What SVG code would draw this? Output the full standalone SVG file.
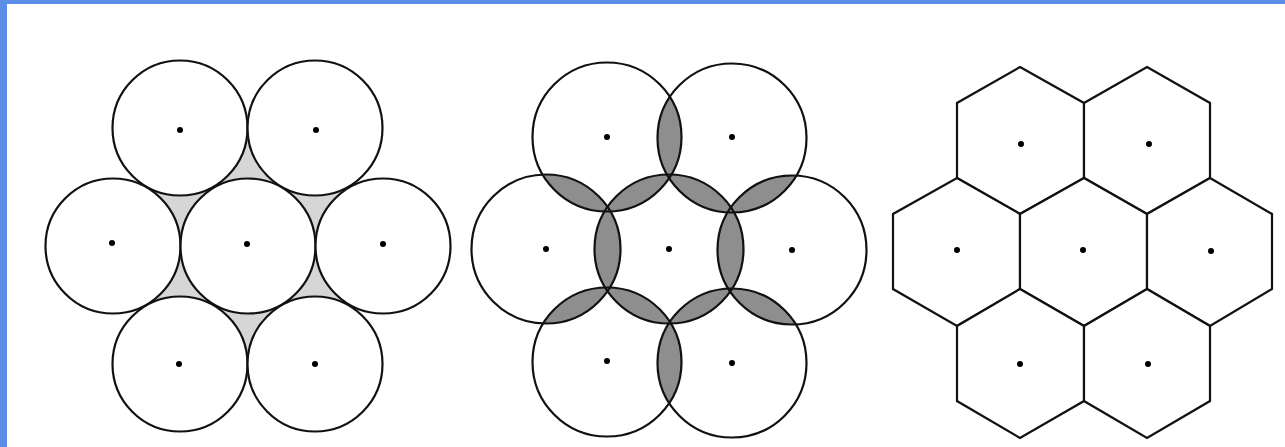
<svg xmlns="http://www.w3.org/2000/svg" xmlns:xlink="http://www.w3.org/1999/xlink" width="1285" height="447" viewBox="0 0 1285 447">
<style>
.c{fill:#fff;stroke:#111;stroke-width:2.2}
.o{fill:none;stroke:#111;stroke-width:2.2}
.h{fill:#fff;stroke:#111;stroke-width:2.2;stroke-linejoin:miter}
.d{fill:#000}
.lens{fill:#8e8e8e}
</style>
<defs>
<circle id="TL" cx="607" cy="137" r="74.5"/>
<circle id="TR" cx="732" cy="138" r="74.5"/>
<circle id="L" cx="546" cy="249" r="74.5"/>
<circle id="C" cx="669" cy="249" r="74.5"/>
<circle id="R" cx="792" cy="250" r="74.5"/>
<circle id="BL" cx="607" cy="362" r="74.5"/>
<circle id="BR" cx="732" cy="363" r="74.5"/>
<clipPath id="kTL"><use xlink:href="#TL"/></clipPath>
<clipPath id="kTR"><use xlink:href="#TR"/></clipPath>
<clipPath id="kL"><use xlink:href="#L"/></clipPath>
<clipPath id="kR"><use xlink:href="#R"/></clipPath>
<clipPath id="kBL"><use xlink:href="#BL"/></clipPath>
<clipPath id="kBR"><use xlink:href="#BR"/></clipPath>
</defs>
<rect x="0" y="0" width="1285" height="447" fill="#fff"/>
<rect x="0" y="0" width="1285" height="4" fill="#5b8ce6"/>
<rect x="0" y="0" width="7" height="447" fill="#5b8ce6"/>

<!-- Panel 1: tangent circles with gaps -->
<g id="panel1">
<polygon points="180,128 315,128 383,246 315,364 180,364 113,246" fill="#d6d6d6"/>
<g id="p1-tl"><circle class="c" cx="180" cy="128" r="67.5"/><circle class="d" cx="180" cy="130" r="3"/></g>
<g id="p1-tr"><circle class="c" cx="315" cy="128" r="67.5"/><circle class="d" cx="316" cy="130" r="3"/></g>
<g id="p1-l"><circle class="c" cx="113" cy="246" r="67.5"/><circle class="d" cx="112" cy="243" r="3"/></g>
<g id="p1-c"><circle class="c" cx="248" cy="246" r="67.5"/><circle class="d" cx="247" cy="244" r="3"/></g>
<g id="p1-r"><circle class="c" cx="383" cy="246" r="67.5"/><circle class="d" cx="383" cy="244" r="3"/></g>
<g id="p1-bl"><circle class="c" cx="180" cy="364" r="67.5"/><circle class="d" cx="179" cy="364" r="3"/></g>
<g id="p1-br"><circle class="c" cx="315" cy="364" r="67.5"/><circle class="d" cx="315" cy="364" r="3"/></g>
</g>

<!-- Panel 2: overlapping circles with lenses -->
<g id="panel2">
<g id="lenses" class="lens">
<use xlink:href="#C" clip-path="url(#kTL)"/>
<use xlink:href="#C" clip-path="url(#kTR)"/>
<use xlink:href="#C" clip-path="url(#kL)"/>
<use xlink:href="#C" clip-path="url(#kR)"/>
<use xlink:href="#C" clip-path="url(#kBL)"/>
<use xlink:href="#C" clip-path="url(#kBR)"/>
<use xlink:href="#TL" clip-path="url(#kTR)"/>
<use xlink:href="#TR" clip-path="url(#kR)"/>
<use xlink:href="#R" clip-path="url(#kBR)"/>
<use xlink:href="#BR" clip-path="url(#kBL)"/>
<use xlink:href="#BL" clip-path="url(#kL)"/>
<use xlink:href="#L" clip-path="url(#kTL)"/>
</g>
<g id="p2-tl"><use xlink:href="#TL" class="o"/><circle class="d" cx="607" cy="137" r="3"/></g>
<g id="p2-tr"><use xlink:href="#TR" class="o"/><circle class="d" cx="732" cy="137" r="3"/></g>
<g id="p2-l"><use xlink:href="#L" class="o"/><circle class="d" cx="546" cy="249" r="3"/></g>
<g id="p2-c"><use xlink:href="#C" class="o"/><circle class="d" cx="669" cy="249" r="3"/></g>
<g id="p2-r"><use xlink:href="#R" class="o"/><circle class="d" cx="792" cy="250" r="3"/></g>
<g id="p2-bl"><use xlink:href="#BL" class="o"/><circle class="d" cx="607" cy="361" r="3"/></g>
<g id="p2-br"><use xlink:href="#BR" class="o"/><circle class="d" cx="732" cy="363" r="3"/></g>
</g>

<!-- Panel 3: hexagonal cells -->
<g id="panel3">
<g id="h-tl"><polygon class="h" points="1020,67 1084,103 1084,178 1020,214 957,178 957,103"/><circle class="d" cx="1021" cy="144" r="3"/></g>
<g id="h-tr"><polygon class="h" points="1147,67 1210,103 1210,178 1147,214 1084,178 1084,103"/><circle class="d" cx="1149" cy="144" r="3"/></g>
<g id="h-ml"><polygon class="h" points="957,178 1020,214 1020,289 957,326 893,289 893,214"/><circle class="d" cx="957" cy="250" r="3"/></g>
<g id="h-mc"><polygon class="h" points="1084,178 1147,214 1147,289 1084,326 1020,289 1020,214"/><circle class="d" cx="1083" cy="250" r="3"/></g>
<g id="h-mr"><polygon class="h" points="1210,178 1272,214 1272,289 1210,326 1147,289 1147,214"/><circle class="d" cx="1211" cy="251" r="3"/></g>
<g id="h-bl"><polygon class="h" points="1020,289 1084,326 1084,401 1020,438 957,401 957,326"/><circle class="d" cx="1020" cy="364" r="3"/></g>
<g id="h-br"><polygon class="h" points="1147,289 1210,326 1210,401 1147,438 1084,401 1084,326"/><circle class="d" cx="1148" cy="364" r="3"/></g>
</g>
</svg>
